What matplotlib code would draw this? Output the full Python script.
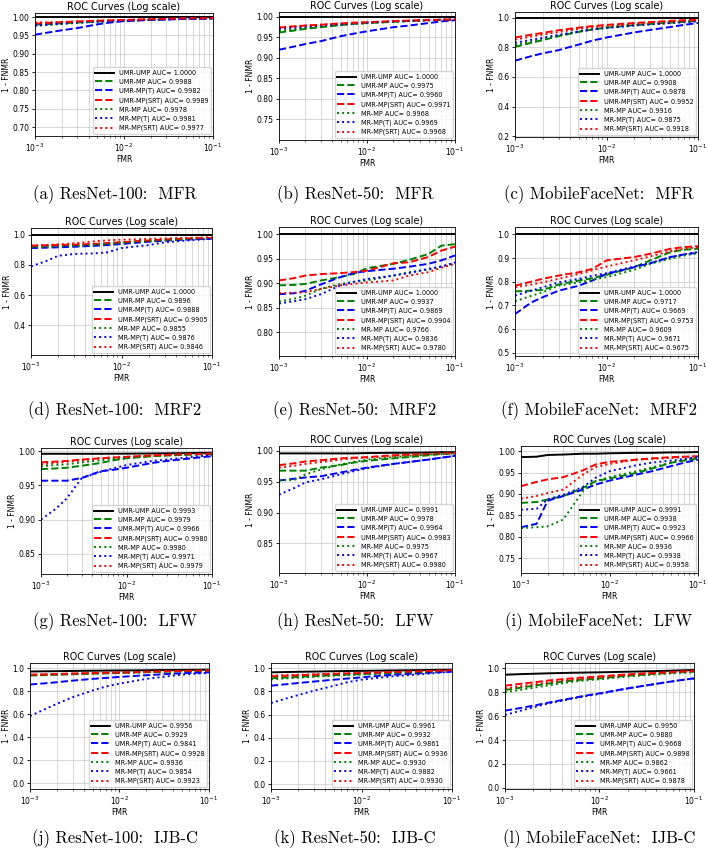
import matplotlib
matplotlib.use("Agg")
import matplotlib.pyplot as plt

FMR = [1e-3, 1.5e-3, 2e-3, 3e-3, 5e-3, 7e-3, 1e-2, 2e-2, 3e-2, 5e-2, 7e-2, 1e-1]

METHODS = ["UMR-UMP", "UMR-MP", "UMR-MP(T)", "UMR-MP(SRT)", "MR-MP", "MR-MP(T)", "MR-MP(SRT)"]
COLORS = ["black", "green", "blue", "red", "green", "blue", "red"]
STYLES = ["-", "--", "--", "--", ":", ":", ":"]

CAPTIONS = ["(a) ResNet-100:  MFR", "(b) ResNet-50:  MFR", "(c) MobileFaceNet:  MFR",
            "(d) ResNet-100:  MRF2", "(e) ResNet-50:  MRF2", "(f) MobileFaceNet:  MRF2",
            "(g) ResNet-100:  LFW", "(h) ResNet-50:  LFW", "(i) MobileFaceNet:  LFW",
            "(j) ResNet-100:  IJB-C", "(k) ResNet-50:  IJB-C", "(l) MobileFaceNet:  IJB-C"]

ONES = [1.0] * 12

R100_MFR = [
    ONES,
    [0.979, 0.981, 0.983, 0.985, 0.988, 0.989, 0.990, 0.993, 0.994, 0.996, 0.996, 0.997],
    [0.952, 0.959, 0.964, 0.970, 0.980, 0.985, 0.989, 0.992, 0.993, 0.995, 0.995, 0.996],
    [0.982, 0.984, 0.986, 0.988, 0.990, 0.991, 0.992, 0.994, 0.995, 0.997, 0.997, 0.998],
    [0.976, 0.979, 0.981, 0.984, 0.987, 0.988, 0.990, 0.992, 0.994, 0.995, 0.996, 0.997],
    [0.977, 0.980, 0.982, 0.985, 0.988, 0.989, 0.990, 0.993, 0.994, 0.996, 0.996, 0.997],
    [0.985, 0.986, 0.987, 0.988, 0.990, 0.991, 0.992, 0.994, 0.995, 0.996, 0.996, 0.997],
]
R50_MFR = [
    ONES,
    [0.962, 0.967, 0.971, 0.975, 0.980, 0.983, 0.985, 0.988, 0.990, 0.992, 0.993, 0.993],
    [0.920, 0.928, 0.934, 0.941, 0.953, 0.959, 0.965, 0.975, 0.979, 0.985, 0.989, 0.992],
    [0.974, 0.977, 0.979, 0.981, 0.984, 0.986, 0.987, 0.990, 0.991, 0.993, 0.993, 0.994],
    [0.966, 0.970, 0.973, 0.977, 0.981, 0.983, 0.985, 0.988, 0.990, 0.992, 0.993, 0.993],
    [0.971, 0.974, 0.976, 0.979, 0.982, 0.984, 0.986, 0.989, 0.990, 0.992, 0.993, 0.993],
    [0.975, 0.977, 0.979, 0.981, 0.984, 0.985, 0.987, 0.989, 0.991, 0.992, 0.993, 0.994],
]
MFN_MFR = [
    ONES,
    [0.803, 0.830, 0.848, 0.875, 0.904, 0.920, 0.933, 0.949, 0.957, 0.966, 0.972, 0.978],
    [0.710, 0.740, 0.759, 0.781, 0.819, 0.845, 0.866, 0.900, 0.917, 0.937, 0.951, 0.964],
    [0.866, 0.885, 0.897, 0.915, 0.933, 0.943, 0.951, 0.964, 0.970, 0.978, 0.983, 0.987],
    [0.815, 0.838, 0.855, 0.880, 0.907, 0.922, 0.934, 0.951, 0.959, 0.968, 0.974, 0.979],
    [0.830, 0.850, 0.864, 0.884, 0.907, 0.920, 0.930, 0.946, 0.954, 0.963, 0.969, 0.975],
    [0.852, 0.872, 0.885, 0.903, 0.924, 0.935, 0.944, 0.958, 0.965, 0.973, 0.978, 0.982],
]
R100_MRF2 = [
    ONES,
    [0.925, 0.927, 0.928, 0.930, 0.934, 0.940, 0.949, 0.960, 0.966, 0.972, 0.975, 0.978],
    [0.911, 0.914, 0.916, 0.920, 0.926, 0.931, 0.938, 0.953, 0.960, 0.967, 0.970, 0.973],
    [0.927, 0.929, 0.931, 0.934, 0.939, 0.944, 0.950, 0.961, 0.967, 0.973, 0.976, 0.978],
    [0.916, 0.919, 0.921, 0.925, 0.932, 0.938, 0.945, 0.956, 0.963, 0.970, 0.973, 0.976],
    [0.790, 0.827, 0.860, 0.872, 0.876, 0.883, 0.911, 0.931, 0.949, 0.960, 0.967, 0.973],
    [0.927, 0.932, 0.936, 0.942, 0.956, 0.962, 0.967, 0.972, 0.975, 0.978, 0.980, 0.982],
]
R50_MRF2 = [
    ONES,
    [0.896, 0.897, 0.899, 0.906, 0.913, 0.919, 0.931, 0.940, 0.948, 0.960, 0.977, 0.980],
    [0.878, 0.880, 0.885, 0.898, 0.913, 0.921, 0.925, 0.930, 0.934, 0.940, 0.947, 0.957],
    [0.906, 0.911, 0.916, 0.919, 0.921, 0.923, 0.926, 0.941, 0.943, 0.954, 0.967, 0.975],
    [0.863, 0.869, 0.875, 0.889, 0.899, 0.903, 0.906, 0.916, 0.923, 0.928, 0.935, 0.941],
    [0.859, 0.864, 0.868, 0.878, 0.896, 0.903, 0.909, 0.916, 0.921, 0.930, 0.934, 0.943],
    [0.880, 0.881, 0.882, 0.889, 0.896, 0.899, 0.902, 0.906, 0.916, 0.923, 0.932, 0.940],
]
MFN_MRF2 = [
    ONES,
    [0.759, 0.762, 0.765, 0.788, 0.805, 0.815, 0.829, 0.861, 0.890, 0.925, 0.935, 0.939],
    [0.663, 0.712, 0.734, 0.762, 0.783, 0.805, 0.833, 0.861, 0.878, 0.904, 0.915, 0.922],
    [0.783, 0.800, 0.812, 0.826, 0.840, 0.854, 0.890, 0.904, 0.918, 0.939, 0.946, 0.950],
    [0.717, 0.740, 0.755, 0.783, 0.797, 0.808, 0.819, 0.850, 0.875, 0.897, 0.910, 0.921],
    [0.741, 0.762, 0.776, 0.797, 0.812, 0.825, 0.836, 0.864, 0.878, 0.904, 0.915, 0.925],
    [0.776, 0.788, 0.797, 0.812, 0.833, 0.848, 0.864, 0.890, 0.907, 0.929, 0.939, 0.946],
]
R100_LFW = [
    [0.9965, 0.9965, 0.9965, 0.9965, 0.9965, 0.9966, 0.9967, 0.997, 0.9972, 0.9975, 0.9978, 0.998],
    [0.974, 0.975, 0.976, 0.979, 0.983, 0.987, 0.990, 0.993, 0.994, 0.995, 0.996, 0.996],
    [0.957, 0.957, 0.957, 0.961, 0.971, 0.973, 0.976, 0.983, 0.986, 0.989, 0.991, 0.993],
    [0.984, 0.985, 0.986, 0.988, 0.990, 0.991, 0.992, 0.994, 0.995, 0.996, 0.996, 0.997],
    [0.978, 0.980, 0.981, 0.984, 0.987, 0.989, 0.990, 0.993, 0.994, 0.995, 0.996, 0.996],
    [0.900, 0.916, 0.931, 0.961, 0.970, 0.975, 0.980, 0.986, 0.988, 0.991, 0.993, 0.994],
    [0.981, 0.983, 0.985, 0.987, 0.990, 0.991, 0.992, 0.994, 0.995, 0.996, 0.996, 0.997],
]
R50_LFW = [
    [0.996, 0.996, 0.996, 0.996, 0.996, 0.996, 0.9965, 0.997, 0.997, 0.9975, 0.998, 0.998],
    [0.968, 0.968, 0.968, 0.973, 0.977, 0.981, 0.984, 0.988, 0.990, 0.993, 0.995, 0.996],
    [0.952, 0.955, 0.957, 0.959, 0.965, 0.969, 0.973, 0.979, 0.982, 0.986, 0.989, 0.992],
    [0.977, 0.980, 0.983, 0.985, 0.988, 0.989, 0.990, 0.993, 0.994, 0.995, 0.996, 0.997],
    [0.952, 0.953, 0.962, 0.970, 0.978, 0.982, 0.986, 0.990, 0.992, 0.994, 0.995, 0.996],
    [0.929, 0.940, 0.949, 0.954, 0.962, 0.967, 0.972, 0.979, 0.982, 0.986, 0.989, 0.992],
    [0.973, 0.976, 0.979, 0.982, 0.986, 0.988, 0.989, 0.992, 0.993, 0.995, 0.996, 0.996],
]
MFN_LFW = [
    [0.986, 0.987, 0.991, 0.992, 0.994, 0.994, 0.995, 0.996, 0.996, 0.997, 0.997, 0.998],
    [0.879, 0.881, 0.887, 0.895, 0.914, 0.930, 0.936, 0.949, 0.959, 0.973, 0.978, 0.983],
    [0.822, 0.830, 0.884, 0.895, 0.910, 0.922, 0.931, 0.945, 0.953, 0.965, 0.973, 0.980],
    [0.918, 0.928, 0.934, 0.939, 0.955, 0.969, 0.975, 0.980, 0.983, 0.986, 0.987, 0.988],
    [0.820, 0.822, 0.824, 0.840, 0.906, 0.930, 0.939, 0.953, 0.962, 0.973, 0.979, 0.984],
    [0.863, 0.865, 0.887, 0.898, 0.916, 0.938, 0.953, 0.967, 0.973, 0.978, 0.982, 0.986],
    [0.889, 0.895, 0.902, 0.910, 0.945, 0.963, 0.970, 0.980, 0.982, 0.984, 0.986, 0.988],
]
R100_IJBC = [
    [0.972, 0.974, 0.975, 0.977, 0.979, 0.980, 0.981, 0.983, 0.985, 0.986, 0.987, 0.988],
    [0.937, 0.941, 0.944, 0.948, 0.953, 0.956, 0.959, 0.966, 0.970, 0.974, 0.977, 0.980],
    [0.859, 0.870, 0.879, 0.893, 0.908, 0.916, 0.925, 0.940, 0.948, 0.957, 0.961, 0.965],
    [0.945, 0.948, 0.951, 0.955, 0.959, 0.962, 0.964, 0.970, 0.974, 0.977, 0.980, 0.982],
    [0.940, 0.944, 0.947, 0.951, 0.955, 0.958, 0.961, 0.967, 0.971, 0.975, 0.978, 0.980],
    [0.585, 0.648, 0.692, 0.749, 0.807, 0.841, 0.867, 0.908, 0.925, 0.945, 0.953, 0.960],
    [0.942, 0.945, 0.948, 0.952, 0.957, 0.960, 0.962, 0.968, 0.972, 0.976, 0.979, 0.981],
]
R50_IJBC = [
    [0.965, 0.968, 0.970, 0.972, 0.975, 0.977, 0.978, 0.981, 0.983, 0.985, 0.987, 0.988],
    [0.914, 0.921, 0.926, 0.933, 0.941, 0.946, 0.950, 0.959, 0.964, 0.970, 0.974, 0.978],
    [0.850, 0.863, 0.873, 0.886, 0.902, 0.912, 0.922, 0.942, 0.950, 0.960, 0.966, 0.971],
    [0.931, 0.936, 0.940, 0.945, 0.952, 0.956, 0.959, 0.966, 0.970, 0.975, 0.979, 0.982],
    [0.905, 0.913, 0.919, 0.927, 0.937, 0.942, 0.947, 0.957, 0.963, 0.969, 0.973, 0.977],
    [0.700, 0.741, 0.769, 0.807, 0.850, 0.880, 0.902, 0.928, 0.939, 0.951, 0.962, 0.971],
    [0.937, 0.941, 0.944, 0.948, 0.954, 0.958, 0.961, 0.967, 0.971, 0.975, 0.978, 0.981],
]
MFN_IJBC = [
    [0.947, 0.952, 0.955, 0.959, 0.963, 0.965, 0.967, 0.972, 0.975, 0.979, 0.983, 0.986],
    [0.819, 0.840, 0.855, 0.875, 0.897, 0.908, 0.916, 0.939, 0.948, 0.961, 0.967, 0.972],
    [0.646, 0.670, 0.688, 0.716, 0.749, 0.771, 0.791, 0.833, 0.855, 0.883, 0.900, 0.916],
    [0.855, 0.872, 0.883, 0.900, 0.916, 0.925, 0.933, 0.950, 0.958, 0.967, 0.973, 0.978],
    [0.799, 0.822, 0.838, 0.860, 0.886, 0.899, 0.909, 0.932, 0.943, 0.955, 0.962, 0.967],
    [0.610, 0.648, 0.674, 0.710, 0.744, 0.767, 0.786, 0.833, 0.855, 0.883, 0.900, 0.916],
    [0.833, 0.852, 0.865, 0.884, 0.904, 0.915, 0.924, 0.944, 0.953, 0.963, 0.970, 0.975],
]

AUCS = [
    [1.0000, 0.9988, 0.9982, 0.9989, 0.9978, 0.9981, 0.9977],
    [1.0000, 0.9975, 0.9960, 0.9971, 0.9968, 0.9969, 0.9968],
    [1.0000, 0.9908, 0.9878, 0.9952, 0.9916, 0.9875, 0.9918],
    [1.0000, 0.9896, 0.9888, 0.9905, 0.9855, 0.9876, 0.9846],
    [1.0000, 0.9937, 0.9869, 0.9904, 0.9766, 0.9836, 0.9780],
    [1.0000, 0.9717, 0.9669, 0.9753, 0.9609, 0.9671, 0.9675],
    [0.9993, 0.9979, 0.9966, 0.9980, 0.9980, 0.9971, 0.9979],
    [0.9991, 0.9978, 0.9964, 0.9983, 0.9975, 0.9967, 0.9980],
    [0.9991, 0.9938, 0.9923, 0.9966, 0.9936, 0.9938, 0.9958],
    [0.9956, 0.9929, 0.9841, 0.9928, 0.9936, 0.9854, 0.9923],
    [0.9961, 0.9932, 0.9861, 0.9936, 0.9930, 0.9882, 0.9930],
    [0.9950, 0.9880, 0.9668, 0.9898, 0.9862, 0.9661, 0.9878],
]

PANELS = [R100_MFR, R50_MFR, MFN_MFR, R100_MRF2, R50_MRF2, MFN_MRF2,
          R100_LFW, R50_LFW, MFN_LFW, R100_IJBC, R50_IJBC, MFN_IJBC]

YTICKS = [
    [0.70, 0.75, 0.80, 0.85, 0.90, 0.95, 1.00],
    [0.75, 0.80, 0.85, 0.90, 0.95, 1.00],
    [0.2, 0.4, 0.6, 0.8, 1.0],
    [0.4, 0.6, 0.8, 1.0],
    [0.80, 0.85, 0.90, 0.95, 1.00],
    [0.5, 0.6, 0.7, 0.8, 0.9, 1.0],
    [0.85, 0.90, 0.95, 1.00],
    [0.85, 0.90, 0.95, 1.00],
    [0.75, 0.80, 0.85, 0.90, 0.95, 1.00],
    [0.0, 0.2, 0.4, 0.6, 0.8, 1.0],
    [0.0, 0.2, 0.4, 0.6, 0.8, 1.0],
    [0.0, 0.2, 0.4, 0.6, 0.8, 1.0],
]
YLIMS = [(0.676, 1.011), (0.70, 1.012), (0.195, 1.038), (0.203, 1.044),
         (0.752, 1.015), (0.486, 1.031), (0.82, 1.005), (0.802, 1.008),
         (0.715, 1.012), (-0.049, 1.046), (-0.043, 1.046), (-0.01, 1.045)]

# axes boxes in pixels: left, right, top, bottom
BOXES = [(35, 213, 13, 136), (279, 455, 12, 140), (515, 698, 12, 137),
         (31, 212, 228, 355), (279, 455, 227, 356), (515, 698, 227, 356),
         (41, 212, 448, 574), (279, 455, 446, 573), (521, 698, 446, 573),
         (30, 209, 663, 789), (271, 452, 663, 789), (505, 694, 663, 789)]
CAP_X = [115, 355, 599]
CAP_Y = [195, 411, 622, 839]

W, H = 708, 856
fig = plt.figure(figsize=(W / 100, H / 100), dpi=100)

for k, curves in enumerate(PANELS):
    l, r, t, b = BOXES[k]
    ax = fig.add_axes([l / W, 1 - b / H, (r - l) / W, (b - t) / H])
    for i, ys in enumerate(curves):
        ax.plot(FMR, ys, color=COLORS[i], linestyle=STYLES[i], lw=1.4,
                label=f"{METHODS[i]} AUC= {AUCS[k][i]:.4f}")
    ax.set_xscale("log")
    ax.set_xlim(1e-3, 1e-1)
    ax.set_ylim(*YLIMS[k])
    ax.set_yticks(YTICKS[k])
    ax.grid(True, which="both", color="#c8c8c8", lw=0.5)
    ax.tick_params(labelsize=5.5, length=2.5, width=0.6, pad=1.5)
    ax.tick_params(which="minor", length=1.5, width=0.4)
    for s in ax.spines.values():
        s.set_linewidth(0.6)
    ax.set_title("ROC Curves (Log scale)", fontsize=6.9, pad=2)
    ax.set_xlabel("FMR", fontsize=5.5, labelpad=1)
    ax.set_ylabel("1 - FNMR", fontsize=5.5, labelpad=1)
    ax.legend(loc="lower right", fontsize=4.7, handlelength=2.8,
              borderaxespad=0.3, labelspacing=0.45, framealpha=0.8)
    fig.text(CAP_X[k % 3] / W, 1 - CAP_Y[k // 3] / H, CAPTIONS[k],
             family="cmr10", fontsize=12, ha="center", va="center")

fig.savefig("out.png", dpi=100)
